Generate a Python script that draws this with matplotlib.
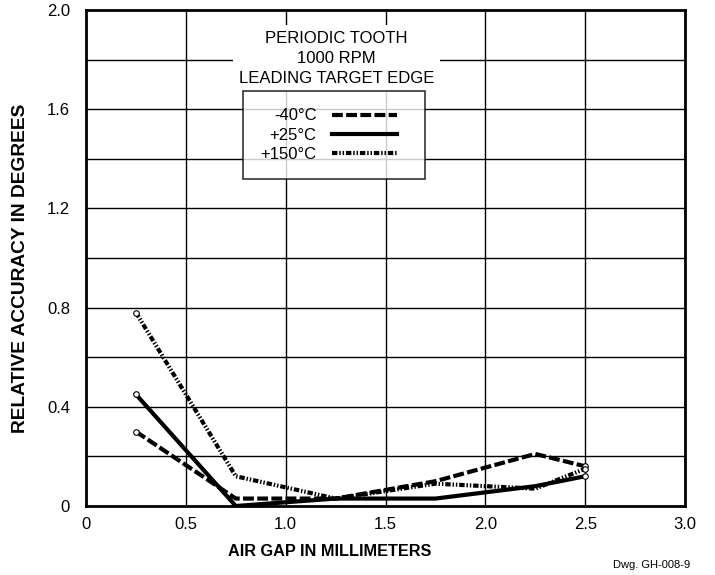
import matplotlib.pyplot as plt

plt.rcParams['font.family'] = ['Liberation Sans', 'DejaVu Sans']

# air gap (mm) and relative accuracy (deg)
airGap = [0.25, 0.75, 1.25, 1.75, 2.25, 2.5]
accMinus40 = [0.30, 0.03, 0.03, 0.10, 0.21, 0.16]
accPlus25 = [0.45, 0.00, 0.03, 0.03, 0.08, 0.12]
accPlus150 = [0.78, 0.12, 0.03, 0.09, 0.07, 0.15]

xTicks = [0, 0.5, 1.0, 1.5, 2.0, 2.5, 3.0]
xTickLabels = ['0', '0.5', '1.0', '1.5', '2.0', '2.5', '3.0']
yTicks = [0, 0.4, 0.8, 1.2, 1.6, 2.0]
yTickLabels = ['0', '0.4', '0.8', '1.2', '1.6', '2.0']
yGrid = [0.2, 0.4, 0.6, 0.8, 1.0, 1.2, 1.4, 1.6, 1.8]

fig = plt.figure(figsize=(7.15, 5.75), dpi=100)
ax = fig.add_axes([0.1203, 0.12, 0.8378, 0.8626])

# grid
for gx in xTicks[1:-1]:
    ax.axvline(gx, color='black', lw=1.0, zorder=1)
for gy in yGrid:
    ax.axhline(gy, color='black', lw=1.0, zorder=1)

l1, = ax.plot(airGap, accMinus40, color='black', lw=3, dashes=(2.6, 0.8), zorder=3, label='-40\u00b0C')
l2, = ax.plot(airGap, accPlus25, color='black', lw=3, zorder=3, label='+25\u00b0C')
l3, = ax.plot(airGap, accPlus150, color='black', lw=3, dashes=(1.3, 0.45, 0.35, 0.45, 0.35, 0.45),
              zorder=3, label='+150\u00b0C')

# small open end markers
for ys in (accMinus40, accPlus25, accPlus150):
    ax.plot([airGap[0], airGap[-1]], [ys[0], ys[-1]], ls='none', marker='o', ms=4,
            mfc='white', mec='black', mew=0.8, zorder=4)

ax.set_xlim(0, 3)
ax.set_ylim(0, 2)
ax.set_xticks(xTicks)
ax.set_xticklabels(xTickLabels)
ax.set_yticks(yTicks)
ax.set_yticklabels(yTickLabels)
ax.tick_params(axis='x', length=0, labelsize=12, pad=8)
ax.tick_params(axis='y', length=0, labelsize=12, pad=11.5)
for sp in ax.spines.values():
    sp.set_linewidth(2)
    sp.set_zorder(5)

# axis titles (not centred on the axes in the original)
fig.text(330 / 715, 1 - 551 / 575, 'AIR GAP IN MILLIMETERS', fontsize=11.7, fontweight='bold',
         ha='center', va='center')
fig.text(21 / 715, 1 - 268 / 575, 'RELATIVE ACCURACY IN DEGREES', fontsize=13.8, fontweight='bold',
         ha='center', va='center', rotation=90)

ax.text(0.418, 0.958, 'PERIODIC TOOTH\n1000 RPM\nLEADING TARGET EDGE', transform=ax.transAxes,
        ha='center', va='top', fontsize=12, linespacing=1.42,
        bbox=dict(facecolor='white', edgecolor='none', pad=4), zorder=6)

leg = ax.legend(handles=[l1, l2, l3], loc='upper left', bbox_to_anchor=(0.262, 0.659, 0.304, 0.178),
                mode='expand', markerfirst=False, handlelength=3.9, fontsize=12, frameon=True,
                fancybox=False, borderaxespad=0, labelspacing=0.25, borderpad=1.05,
                handletextpad=0.9)
leg.get_frame().set_edgecolor('black')
leg.get_frame().set_linewidth(1.2)
leg.set_zorder(7)

fig.text(0.965, 0.008, 'Dwg. GH-008-9', ha='right', va='bottom', fontsize=8)

fig.savefig('out.png', dpi=100)
